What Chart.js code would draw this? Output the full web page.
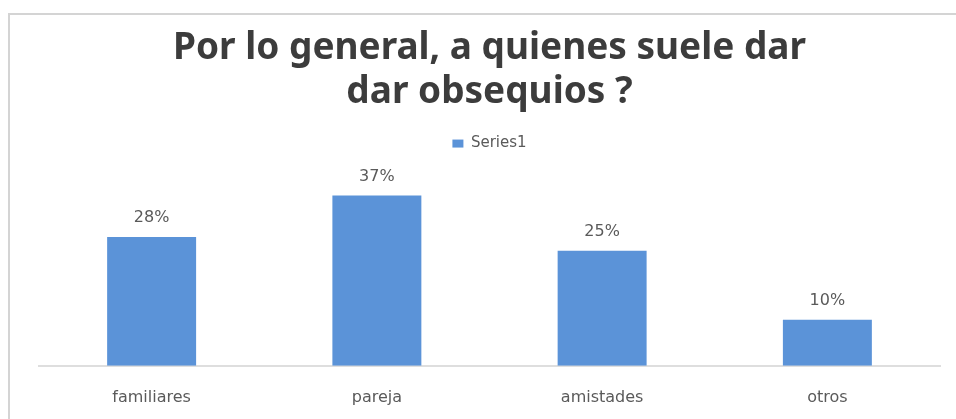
<!DOCTYPE html>
<html>
<head>
<meta charset="utf-8">
<script src="https://cdn.jsdelivr.net/npm/chart.js@4"></script>
<style>
  html, body { margin: 0; padding: 0; background: #fff; }
  #marco { position: absolute; left: 0; top: 0; width: 956px; height: 419px; }
  #borde { position: absolute; left: 8px; top: 13px; width: 960px; height: 420px;
           border-left: 2px solid #d4d4d4; border-top: 2px solid #d4d4d4; }
</style>
</head>
<body>
<div id="borde"></div>
<div id="marco"><canvas id="grafico" width="956" height="419"></canvas></div>
<script>
const categorias = ['familiares', 'pareja', 'amistades', 'otros'];
const porcentajes = [28, 37, 25, 10];
const nombreSerie = 'Series1';
const titulo = ['Por lo general, a quienes suele dar', 'dar obsequios ?'];

const etiquetas = {
    id: 'etiquetas',
    afterDatasetsDraw(chart) {
        const ctx = chart.ctx;
        const meta = chart.getDatasetMeta(0);
        ctx.save();
        ctx.font = '16px "DejaVu Sans"';
        ctx.fillStyle = '#5a5a5a';
        ctx.textAlign = 'center';
        ctx.textBaseline = 'middle';
        meta.data.forEach((bar, i) => {
            ctx.fillText(porcentajes[i] + '%', bar.x, bar.y - 19);
        });
        ctx.restore();
    }
};

new Chart(document.getElementById('grafico'), {
    type: 'bar',
    data: {
        labels: categorias,
        datasets: [{
            label: nombreSerie,
            data: porcentajes,
            backgroundColor: '#5b93d8',
            barPercentage: 0.395,
            categoryPercentage: 1
        }]
    },
    options: {
        responsive: false,
        animation: false,
        layout: { padding: { left: 39, right: 16, top: 26, bottom: -2 } },
        plugins: {
            title: {
                display: true,
                text: titulo,
                color: '#3c3c3c',
                font: { family: '"Noto Sans"', size: 37, weight: 'bold', lineHeight: 1.19 },
                padding: { top: 0, bottom: 12 }
            },
            legend: {
                display: true,
                labels: {
                    boxWidth: 11, boxHeight: 8,
                    color: '#5a5a5a',
                    font: { family: '"DejaVu Sans"', size: 15 },
                    padding: 10
                }
            },
            tooltip: { enabled: false }
        },
        scales: {
            y: { display: false, min: 0, max: 44.5 },
            x: {
                grid: { display: false },
                border: { color: '#dedede', width: 2 },
                ticks: {
                    color: '#5a5a5a',
                    font: { family: '"DejaVu Sans"', size: 16 },
                    padding: 14
                }
            }
        }
    },
    plugins: [etiquetas]
});
</script>
</body>
</html>
